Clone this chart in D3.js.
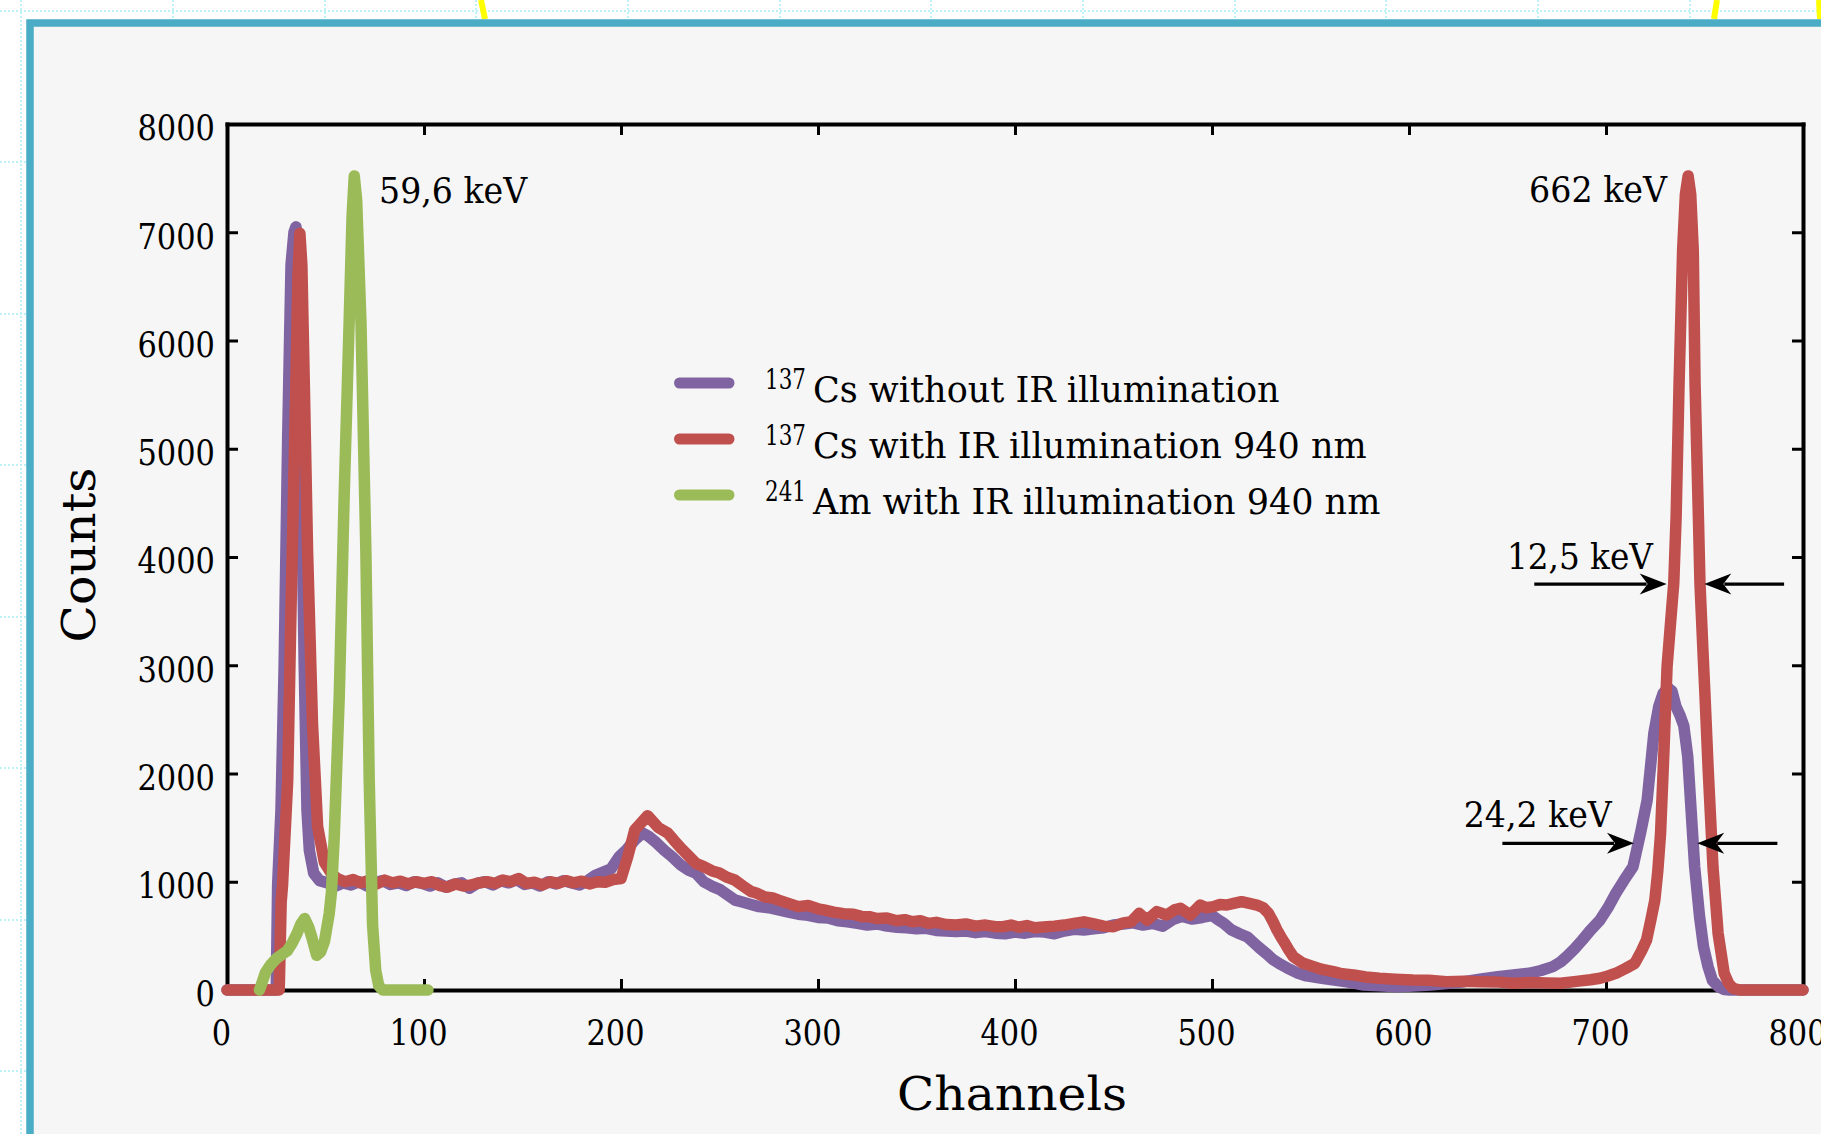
<!DOCTYPE html>
<html>
<head>
<meta charset="utf-8">
<script src="https://cdn.jsdelivr.net/npm/d3@7"></script>
<style>
  html, body { margin: 0; padding: 0; background: #ffffff; overflow: hidden; }
  svg { display: block; font-family: "DejaVu Serif", serif; }
</style>
</head>
<body>
<svg id="chart" width="1821" height="1134"></svg>
<script>
// —— Data ——
const X_TICKS = [0, 100, 200, 300, 400, 500, 600, 700, 800];
const Y_TICKS = [0, 1000, 2000, 3000, 4000, 5000, 6000, 7000, 8000];
const X_INNER_TICKS = [100, 200, 300, 400, 500, 600, 700];
const Y_INNER_TICKS = [1000, 2000, 3000, 4000, 5000, 6000, 7000];

const LEGEND_ISOTOPES = ["137", "137", "241"];
const LEGEND_LABELS = [
  "Cs without IR illumination",
  "Cs with IR illumination 940 nm",
  "Am with IR illumination 940 nm",
];

// [channel, counts]
const CS_NO_IR = [
  [0, 0], [12, 0], [25, 0], [25.7, 970], [27.4, 1660], [29, 2990], [30.8, 5100],
  [32.5, 6700], [34, 7000], [35, 7050], [36, 6900], [37.5, 5100], [39.2, 2990],
  [40.6, 1660], [41.8, 1290], [44, 1080], [47, 1010], [51, 990], [55, 960],
  [59, 990], [63, 970], [67, 1000], [71, 960], [75, 990], [79, 1010], [83, 975],
  [87, 990], [91, 965], [95, 1000], [99, 985], [103, 960], [107, 990], [111, 950],
  [115, 975], [119, 990], [123, 940], [127, 985], [131, 1000], [135, 970],
  [139, 1010], [143, 990], [147, 1020], [151, 975], [155, 990], [159, 960],
  [163, 1000], [167, 980], [171, 1010], [175, 990], [179, 970], [183, 1010],
  [187, 1060], [191, 1090], [195, 1120], [199, 1230], [203, 1300], [207, 1385],
  [211, 1450], [214, 1420], [218, 1360], [222, 1290], [226, 1230], [230, 1160],
  [234, 1110], [238, 1080], [242, 1000], [246, 960], [250, 930], [254, 880],
  [258, 830], [262, 810], [266, 790], [270, 770], [275, 760], [280, 740],
  [285, 720], [290, 700], [295, 690], [300, 670], [305, 665], [310, 640],
  [315, 630], [320, 615], [325, 600], [330, 610], [335, 590], [340, 580],
  [345, 575], [350, 565], [355, 570], [360, 550], [365, 545], [370, 540],
  [375, 545], [380, 530], [385, 540], [390, 525], [395, 520], [400, 535],
  [405, 525], [410, 540], [415, 535], [420, 520], [425, 545], [430, 560],
  [435, 555], [440, 565], [445, 575], [450, 600], [455, 610], [460, 620],
  [465, 600], [470, 615], [475, 590], [480, 650], [485, 680], [490, 655],
  [495, 670], [500, 690], [503, 650], [506, 616], [510, 554], [514, 520],
  [518, 490], [521, 440], [524, 390], [528, 330], [531, 280], [535, 235],
  [538, 205], [543, 160], [548, 130], [555, 110], [562, 92], [570, 70],
  [577, 46], [585, 40], [594, 31], [602, 38], [611, 46], [619, 60], [628, 77],
  [636, 100], [645, 123], [653, 140], [661, 154], [667, 180], [673, 216],
  [677, 260], [680, 308], [684, 380], [688, 462], [692, 550], [697, 647],
  [701, 760], [705, 893], [709, 1010], [713.7, 1139], [717.5, 1447],
  [720.9, 1755], [724.3, 2371], [726.8, 2620], [729, 2740], [731.5, 2790],
  [733.5, 2760], [735.5, 2620], [737.5, 2540], [739.5, 2440], [741.5, 2155],
  [743.4, 1601], [745, 1139], [747.5, 677], [749.5, 400], [751.8, 216],
  [754, 90], [757, 31], [760, 5], [763, 0], [780, 0], [800, 0],
];

const CS_IR = [
  [0, 0], [12, 0], [26.5, 0], [27.5, 810], [28.2, 970], [30.8, 1930],
  [32.5, 3520], [35, 5630], [36, 6600], [37, 6990], [38, 6700], [39.2, 5630],
  [40.9, 4050], [43.4, 2460], [46, 1510], [49.4, 1180], [52.8, 1080], [56, 1030],
  [60, 1000], [64, 1020], [68, 990], [72, 1010], [76, 980], [80, 1015], [84, 990],
  [88, 1005], [92, 980], [96, 1000], [100, 985], [104, 1000], [108, 965],
  [112, 950], [116, 980], [120, 960], [124, 970], [128, 990], [132, 1000],
  [136, 985], [140, 1015], [144, 1000], [148, 1030], [152, 985], [156, 995],
  [160, 970], [164, 1000], [168, 985], [172, 1010], [176, 990], [180, 1005],
  [184, 980], [188, 1000], [192, 995], [196, 1020], [200, 1030], [203.4, 1230],
  [207, 1480], [210, 1540], [213.5, 1610], [216, 1560], [219, 1500],
  [223.7, 1450], [227, 1380], [231, 1300], [234.8, 1230], [238, 1170],
  [242, 1140], [246.3, 1100], [250, 1080], [254, 1040], [257.7, 1016],
  [262, 960], [266, 910], [269, 893], [273, 860], [277, 850], [280, 830],
  [285, 800], [290, 770], [295, 780], [300, 750], [303, 740], [308, 720],
  [313, 705], [318, 700], [322, 680], [326, 677], [330, 660], [335, 665],
  [340, 640], [344, 650], [348, 630], [352, 640], [356, 615], [360, 625],
  [365, 605], [370, 600], [375, 610], [380, 590], [385, 600], [390, 585],
  [394, 585], [398, 600], [402, 580], [406, 595], [410, 575], [416, 585],
  [420, 590], [425, 600], [430, 615], [435, 630], [440, 610], [445, 590],
  [450, 585], [455, 620], [459, 631], [463, 708], [467, 646], [472, 724],
  [477, 693], [481, 740], [484, 755], [489, 693], [494, 785], [497, 760],
  [500.7, 770], [504, 790], [507.5, 785], [511, 800], [515, 816], [519, 800],
  [522.8, 785], [526, 760], [528.7, 708], [531, 630], [533, 554], [535, 490],
  [537, 431], [539, 370], [541.3, 308], [546, 250], [551.5, 216], [556, 190],
  [561.6, 170], [566, 150], [571.8, 139], [578, 120], [585, 108], [593, 100],
  [602, 92], [610, 90], [619, 77], [628, 80], [636, 77], [644, 75], [653, 62],
  [662, 70], [670, 65], [677, 62], [685, 80], [692, 95], [697, 108], [701, 130],
  [705, 154], [710, 200], [714.6, 246], [718, 360], [720.6, 462], [722.8, 650],
  [724.8, 831], [726.3, 1100], [727.7, 1447], [729.4, 2200], [731, 2987],
  [732.8, 3400], [734.4, 3757], [735.6, 4372], [737.1, 5607], [738.9, 6836],
  [740.3, 7350], [741.7, 7520], [743, 7350], [744.3, 6836], [745.2, 5607],
  [746.9, 4372], [747.7, 3757], [749.3, 3100], [750.3, 2700], [751.8, 2063],
  [754.3, 1139], [756.9, 524], [760, 154], [762.3, 60], [764.5, 15], [768, 0],
  [780, 0], [800, 0],
];

const AM_IR = [
  [16.5, 0], [18, 80], [19.5, 160], [22, 230], [25, 290], [28, 330],
  [30.5, 360], [33, 430], [35.5, 520], [37.5, 610], [39.4, 660], [41.5, 580],
  [43, 490], [45.5, 320], [47.5, 350], [49.5, 450], [51.9, 707], [53, 900],
  [54.4, 1395], [57, 2725], [59.5, 4580], [62, 6170], [63.5, 7150],
  [64.6, 7520], [65.8, 7300], [68, 6170], [70.5, 4046], [72.2, 1930],
  [73.9, 600], [75.5, 180], [77, 40], [79, 0], [90, 0], [102, 0],
];

// —— Layout ——
const PLOT = { left: 227, right: 1803, top: 124, bottom: 990 };
const SERIES_COLORS = ["#8064a2", "#c0504d", "#9bbb59"];
const FRAME_COLOR = "#4bacc6";
const GUIDE_XS = [21, 173, 325, 476, 628, 780, 931, 1083, 1235, 1386, 1538, 1690];
const GUIDE_YS = [11, 162, 314, 465, 617, 768, 920, 1071];

const x = d3.scaleLinear().domain([0, 800]).range([PLOT.left, PLOT.right]);
const y = d3.scaleLinear().domain([0, 8000]).range([PLOT.bottom, PLOT.top]);

const svg = d3.select("#chart");

/** Narrow a text by a factor (reference face has narrower digits). */
function squeeze(sel, k) {
  sel.each(function () {
    const w = this.getComputedTextLength();
    d3.select(this)
      .attr("textLength", (w * k).toFixed(1))
      .attr("lengthAdjust", "spacingAndGlyphs");
  });
}

function fitWidth(sel, w) {
  sel.attr("textLength", w).attr("lengthAdjust", "spacingAndGlyphs");
}

// —— Page backdrop: layout guides + slide frame ——
const guides = svg.append("g").attr("stroke", "#bff2f7").attr("stroke-width", 2)
  .attr("stroke-dasharray", "2 2");
guides.selectAll("line.v").data(GUIDE_XS).join("line").attr("class", "v")
  .attr("x1", (d) => d).attr("x2", (d) => d).attr("y1", 0).attr("y2", 1134);
guides.selectAll("line.h").data(GUIDE_YS).join("line").attr("class", "h")
  .attr("x1", 0).attr("x2", 1821).attr("y1", (d) => d).attr("y2", (d) => d);

svg.append("g").attr("stroke", "#ffff00").attr("stroke-width", 6)
  .selectAll("line")
  .data([[481, 0, 485, 19], [1717, 0, 1714, 19], [1819, 0, 1820, 19]])
  .join("line")
  .attr("x1", (d) => d[0]).attr("y1", (d) => d[1])
  .attr("x2", (d) => d[2]).attr("y2", (d) => d[3]);

svg.append("rect")
  .attr("x", 30).attr("y", 23).attr("width", 1900).attr("height", 1200)
  .attr("fill", "#f6f6f6").attr("stroke", FRAME_COLOR).attr("stroke-width", 7.5);

// —— Axes ——
function styleAxis(g) {
  g.attr("font-size", null).attr("font-family", null);
  g.select(".domain").attr("stroke-width", 4).attr("stroke-linecap", "square");
  g.selectAll(".tick line").attr("stroke-width", 3);
}

const gx = svg.append("g")
  .attr("transform", `translate(0,${PLOT.bottom})`)
  .call(d3.axisBottom(x).tickValues(X_TICKS).tickFormat(d3.format("d"))
    .tickSizeInner(-11).tickSizeOuter(0).tickPadding(0));
styleAxis(gx);
gx.selectAll(".tick").filter((d) => d === 0 || d === 800).select("line").remove();
gx.selectAll("text")
  .attr("y", 55).attr("dy", null).attr("dx", -6)
  .style("font-size", "35px");
squeeze(gx.selectAll("text"), 0.87);

const gy = svg.append("g")
  .attr("transform", `translate(${PLOT.left},0)`)
  .call(d3.axisLeft(y).tickValues(Y_TICKS).tickFormat(d3.format("d"))
    .tickSizeInner(-11).tickSizeOuter(0).tickPadding(12));
styleAxis(gy);
gy.selectAll(".tick").filter((d) => d === 0 || d === 8000).select("line").remove();
gy.selectAll("text").attr("dy", "0.45em").style("font-size", "35px");
squeeze(gy.selectAll("text"), 0.87);

const gTop = svg.append("g")
  .attr("transform", `translate(0,${PLOT.top})`)
  .call(d3.axisTop(x).tickValues(X_INNER_TICKS).tickSizeInner(-11).tickSizeOuter(0).tickFormat(() => ""));
styleAxis(gTop);

const gRight = svg.append("g")
  .attr("transform", `translate(${PLOT.right},0)`)
  .call(d3.axisRight(y).tickValues(Y_INNER_TICKS).tickSizeInner(-11).tickSizeOuter(0).tickFormat(() => ""));
styleAxis(gRight);

// Axis titles
svg.append("text")
  .attr("x", (PLOT.left + PLOT.right) / 2 - 3).attr("y", 1110)
  .attr("text-anchor", "middle").style("font-size", "47px")
  .text("Channels")
  .call(fitWidth, 230);

svg.append("text")
  .attr("transform", `translate(95,${(PLOT.top + PLOT.bottom) / 2 - 2}) rotate(-90)`)
  .attr("text-anchor", "middle").style("font-size", "47px")
  .text("Counts")
  .call(fitWidth, 175);

// —— Spectra ——
const line = d3.line().x((d) => x(d[0])).y((d) => y(d[1]));

svg.append("g")
  .attr("fill", "none").attr("stroke-width", 11.5)
  .attr("stroke-linejoin", "round").attr("stroke-linecap", "round")
  .selectAll("path")
  .data([CS_NO_IR, CS_IR, AM_IR])
  .join("path")
  .attr("stroke", (_, i) => SERIES_COLORS[i])
  .attr("d", line);

// —— Legend ——
const legend = svg.append("g").attr("transform", "translate(674,383)");
const rows = legend.selectAll("g")
  .data(LEGEND_LABELS)
  .join("g")
  .attr("transform", (_, i) => `translate(0,${i * 56})`);

rows.append("line")
  .attr("x1", 5.5).attr("x2", 55).attr("y1", 0).attr("y2", 0)
  .attr("stroke", (_, i) => SERIES_COLORS[i])
  .attr("stroke-width", 11).attr("stroke-linecap", "round");

rows.append("text")
  .attr("x", 91).attr("y", 5.5)
  .style("font-size", "28px")
  .text((_, i) => LEGEND_ISOTOPES[i])
  .call(fitWidth, 41);

rows.append("text")
  .attr("x", 139).attr("y", 18.5)
  .style("font-size", "35px")
  .text((d) => d);

// —— Peak annotations ——
const PEAK_NOTES = [
  { label: "59,6 keV", ch: 77.2, count: 7270, anchor: "start", width: 148 },
  { label: "662 keV", ch: 731, count: 7280, anchor: "end", width: 138 },
];

svg.append("g").selectAll("text")
  .data(PEAK_NOTES)
  .join("text")
  .attr("x", (d) => x(d.ch)).attr("y", (d) => y(d.count))
  .attr("text-anchor", (d) => d.anchor)
  .style("font-size", "35px")
  .text((d) => d.label)
  .each(function (d) { fitWidth(d3.select(this), d.width); });

// FWHM arrows
const FWHM_NOTES = [
  { label: "12,5 keV", count: 3750, from: [663.6, 790.4], tips: [730.8, 749.9], textCh: 723.8, textCount: 3886, width: 146 },
  { label: "24,2 keV", count: 1355, from: [647.4, 787], tips: [714.2, 746.3], textCh: 702.9, textCount: 1503, width: 148 },
];

const fwhm = svg.append("g");
FWHM_NOTES.forEach((n) => {
  const yy = y(n.count);
  [0, 1].forEach((side) => {
    const dir = side === 0 ? 1 : -1; // +1 points right
    const tip = x(n.tips[side]);
    fwhm.append("line")
      .attr("x1", x(n.from[side])).attr("x2", tip - dir * 20)
      .attr("y1", yy).attr("y2", yy)
      .attr("stroke", "#000").attr("stroke-width", 3.3);
    fwhm.append("path")
      .attr("d", `M${tip},${yy} L${tip - dir * 27},${yy - 10.5} L${tip - dir * 19},${yy} L${tip - dir * 27},${yy + 10.5} Z`)
      .attr("fill", "#000");
  });
  fwhm.append("text")
    .attr("x", x(n.textCh)).attr("y", y(n.textCount))
    .attr("text-anchor", "end")
    .style("font-size", "35px")
    .text(n.label)
    .call(fitWidth, n.width);
});
</script>
</body>
</html>
